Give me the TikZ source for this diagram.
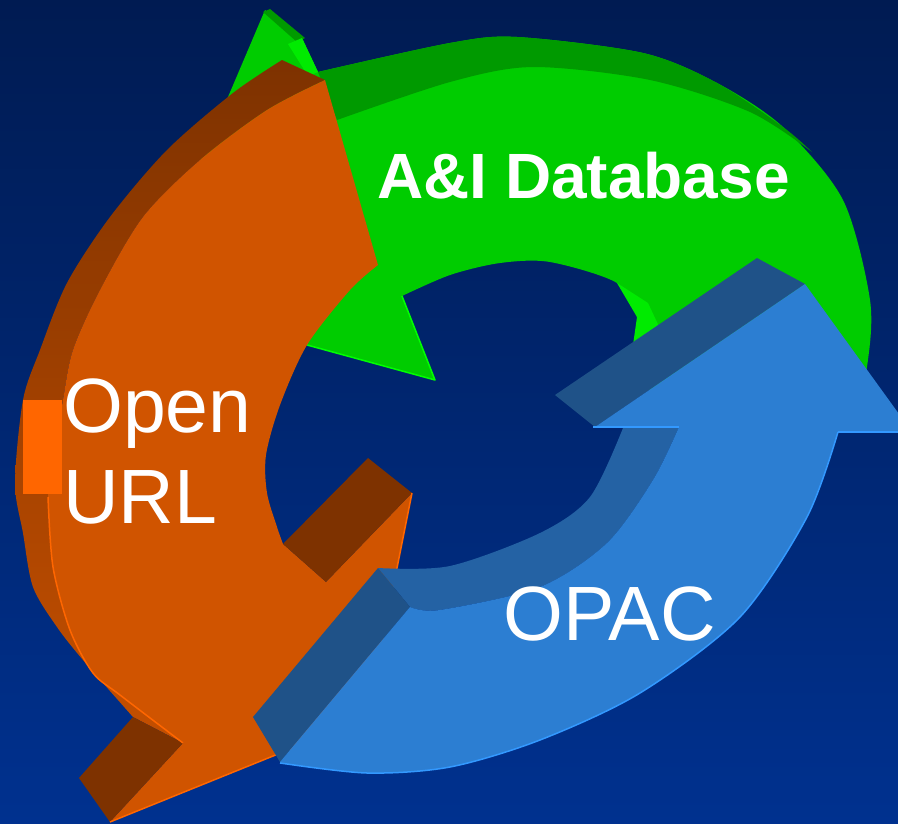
\documentclass[tikz,border=0pt]{standalone}
\usepackage{fontspec}
\setmainfont{Liberation Sans}
\usepackage{xcolor}
\usepackage{tikz}

\definecolor{bgtop}{HTML}{001B52}
\definecolor{bgbot}{HTML}{00318F}
\definecolor{dbfront}{HTML}{00CC00}
\definecolor{dbside}{HTML}{009A00}
\definecolor{dbedge}{HTML}{00FF00}
\definecolor{urlfront}{HTML}{D05400}
\definecolor{urlside}{HTML}{7E3200}
\definecolor{urlsidemid}{HTML}{A04400}
\definecolor{urlsidelow}{HTML}{C44F00}
\definecolor{urlbright}{HTML}{FF6600}
\definecolor{opacfront}{HTML}{2C7ED2}
\definecolor{opacside}{HTML}{1F5288}
\definecolor{opacdark}{HTML}{1C4A7C}
\definecolor{opacinner}{HTML}{2462A4}
\definecolor{opacedge}{HTML}{3399FF}

\tikzset{
	tag/.style={text=white, inner sep=0pt, anchor=base west},
	rim/.style={line width=1.5pt, line join=round},
}

\begin{document}
\begin{tikzpicture}[x=1pt, y=-1pt]
				\useasboundingbox (0,0) rectangle (898,823);
				\clip (0,0) rectangle (898,823);
				
				%Background
				\shade[top color=bgtop, bottom color=bgbot] (0,0) rectangle (898,823);
				
				%Green arrow
				\fill[dbfront] (265,10) -- (302,38) -- (318,72) -- plot[smooth] coordinates {(318,72) (450,43) (517,37) (643,53) (717,83) (783,127) (843,200) (870,300) (867,367) (852,433)} -- (660,420) -- (633,345) -- plot[smooth] coordinates {(633,345) (637,317) (617,283) (550,262) (500,263) (450,275) (402,296)} -- (435,380) -- (307,345) -- (142,293) -- (228,97) -- cycle;
				\fill[dbside] plot[smooth] coordinates {(318,72) (450,43) (517,37) (643,53) (717,83) (783,127) (812,152)} -- plot[smooth] coordinates {(812,152) (750,112) (650,80) (533,67) (450,82) (337,120)} -- cycle;
				\fill[dbside] (263,12) -- (270,9) -- (305,38) -- (297,42) -- cycle;
				\fill[dbedge!60!dbfront] (288,44) -- (302,38) -- (318,72) -- (308,76) -- cycle;
				\fill[dbedge!60!dbfront] (617,283) -- (648,303) -- (663,335) -- (633,345) -- (637,317) -- cycle;
				\draw[rim, dbedge] (402,296) -- (435,380) -- (307,345);
				
				%Orange arrow
				\shade[top color=urlside, middle color=urlsidemid, bottom color=urlsidelow] plot[smooth] coordinates {(282,60) (233,93) (167,150) (110,217) (67,283) (40,350) (23,400) (15,483) (23,533) (33,587) (57,627) (83,660) (133,717)} -- (183,743) -- plot[smooth] coordinates {(183,743) (120,695) (93,673) (70,630) (53,567) (48,497) (55,450) (63,400) (73,350) (100,290) (143,217) (200,160) (267,110) (325,80)} -- cycle;
				\fill[urlfront] (325,80) -- (378,265) -- plot[smooth] coordinates {(378,265) (350,290) (307,345) (280,405) (266,455) (267,493) (277,527) (283,544)} -- (326,582) -- (412,493) -- (367,718) -- (110,822) -- (183,743) -- plot[smooth] coordinates {(183,743) (120,695) (93,673) (70,630) (53,567) (48,497) (55,450) (63,400) (73,350) (100,290) (143,217) (200,160) (267,110) (325,80)} -- cycle;
				\fill[urlside] (368,458) -- (412,493) -- (326,582) -- (283,544) -- cycle;
				\fill[urlside] (79,778) -- (133,717) -- (183,743) -- (110,822) -- cycle;
				\draw[rim, urlbright] (412,493) -- (367,718) -- (110,822);
				\draw[rim, urlbright] plot[smooth] coordinates {(183,743) (120,695) (93,673) (70,630) (53,567) (48,497)};
				\fill[urlbright] (23,400) rectangle (62,494);
				
				%Blue arrow
				\shade[left color=opacinner, middle color=opacdark, right color=opacinner] plot[smooth] coordinates {(378,568) (450,566) (540,533) (590,497) (623,428)} -- (679,427) -- plot[smooth] coordinates {(679,427) (653,480) (607,543) (540,587) (440,610) (410,607)} -- cycle;
				\fill[opacside] (253,717) -- (378,568) -- (410,607) -- (280,762) -- cycle;
				\fill[opacside] (555,395) -- (757,258) -- (805,284) -- (595,427) -- cycle;
				\fill[opacfront] (280,762) -- (410,607) -- plot[smooth] coordinates {(410,607) (440,610) (540,587) (607,543) (653,480) (679,427)} -- (595,427) -- (805,284) -- (912,432) -- (838,432) -- plot[smooth] coordinates {(838,432) (807,517) (740,617) (640,693) (540,740) (450,767) (367,773) (280,763)} -- cycle;
				\draw[rim, opacedge] (593,427) -- (679,427);
				\draw[rim, opacedge] (838,432) -- (912,432);
				\draw[rim, opacedge] plot[smooth] coordinates {(838,432) (807,517) (740,617) (640,693) (540,740) (450,767) (367,773) (280,763)};
				
				%Labels
				\node[tag, font=\fontsize{64}{77}\selectfont\bfseries] (db) at (377,198) {A\&I Database};
				\node[tag, font=\fontsize{77}{91}\selectfont] (open) at (63,432) {Open};
				\node[tag, font=\fontsize{77}{91}\selectfont] (url) at (63,523) {URL};
				\node[tag, font=\fontsize{77}{91}\selectfont] (opac) at (503,640) {OPAC};
			\end{tikzpicture}
\end{document}
